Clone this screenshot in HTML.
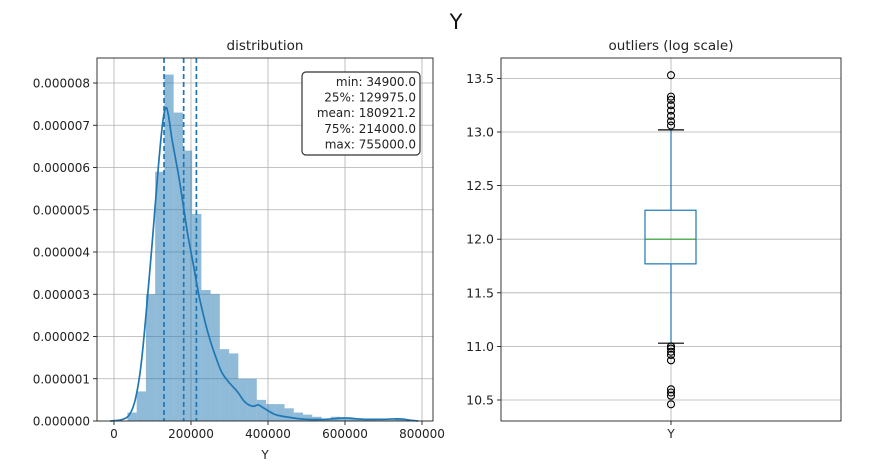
<!DOCTYPE html>
<html><head><meta charset="utf-8"><style>
body{margin:0;background:#fff;}
svg{display:block;font-family:"DejaVu Sans","Liberation Sans",sans-serif;}
</style></head><body>
<svg id="fig" width="875" height="468" viewBox="0 0 875 468">
<text x="456" y="29" font-size="21" text-anchor="middle" fill="#111">Y</text>
<g id="left"></g>
<g id="right"></g>
</svg>
<script>
// ----- data -----
const histStart = 34900;
const histBinWidth = 24003;
const histDensity = [0.2,0.7,3.0,5.9,8.2,7.3,6.4,4.9,3.1,3.0,1.7,1.6,1.0,1.0,0.5,0.4,0.4,0.3,0.2,0.15,0.1,0.05,0.1,0.05,0.05,0.05,0.02,0.02,0.02,0.05];
const kdeX = [-10000,20000,40000,55000,70000,85000,100000,115000,127000,135000,142000,150000,160000,170000,180000,190000,200000,210000,220000,235000,250000,265000,280000,300000,320000,340000,360000,375000,390000,420000,460000,500000,550000,600000,650000,700000,740000,770000,790000];
const kdeY = [0.0,0.03,0.15,0.5,1.3,2.7,4.3,6.0,7.1,7.42,7.2,6.7,6.2,5.7,5.1,4.5,4.0,3.5,3.0,2.4,1.9,1.5,1.15,0.9,0.7,0.45,0.35,0.38,0.3,0.15,0.08,0.04,0.04,0.07,0.04,0.04,0.05,0.02,0.0];
const statLines = [129975, 180921.2, 214000];
const statLabels = ["min: 34900.0","25%: 129975.0","mean: 180921.2","75%: 214000.0","max: 755000.0"];
const xTicks = [0,200000,400000,600000,800000];
const yTicks = [0,1,2,3,4,5,6,7,8];
const yTickLabels = ["0.000000","0.000001","0.000002","0.000003","0.000004","0.000005","0.000006","0.000007","0.000008"];
const boxStats = {whisLo:11.03, q1:11.77, med:12.0, q3:12.27, whisHi:13.02};
const outliers = [13.53,13.33,13.30,13.25,13.20,13.15,13.10,13.06,11.00,10.98,10.95,10.92,10.87,10.60,10.57,10.54,10.46];
const rTicks = [10.5,11.0,11.5,12.0,12.5,13.0,13.5];
const rTickLabels = ["10.5","11.0","11.5","12.0","12.5","13.0","13.5"];

const NS="http://www.w3.org/2000/svg";
function mk(parent,tag,attrs,text){const e=document.createElementNS(NS,tag);for(const k in attrs)e.setAttribute(k,attrs[k]);if(text!==undefined)e.textContent=text;parent.appendChild(e);return e;}

// ----- left panel -----
const L=document.getElementById('left');
const lx0=97,lx1=433,ly0=58,ly1=421;
const X=v=>114+v/200000*77;
const Y=d=>421-d*42.25;
mk(L,'rect',{x:lx0,y:ly0,width:lx1-lx0,height:ly1-ly0,fill:'#fff'});
xTicks.forEach((t,i)=>{
 const g=mk(L,'line',{x1:X(t),x2:X(t),y1:ly0,y2:ly1,stroke:'#b0b0b0','stroke-width':0.8});
 
 mk(L,'line',{x1:X(t),x2:X(t),y1:ly1,y2:ly1+4,stroke:'#000','stroke-width':0.8});
 const tl=mk(L,'text',{x:X(t),y:ly1+17,'font-size':12,'text-anchor':'middle',fill:'#222'},String(t));
 
});
yTicks.forEach((t,i)=>{
 const g=mk(L,'line',{x1:lx0,x2:lx1,y1:Y(t),y2:Y(t),stroke:'#b0b0b0','stroke-width':0.8});
 
 mk(L,'line',{x1:lx0-4,x2:lx0,y1:Y(t),y2:Y(t),stroke:'#000','stroke-width':0.8});
 const tl=mk(L,'text',{x:lx0-7,y:Y(t)+4.5,'font-size':12,'text-anchor':'end',fill:'#222'},yTickLabels[i]);
 
});
histDensity.forEach((d,i)=>{
 const a=histStart+i*histBinWidth,b=a+histBinWidth;
 const r=mk(L,'rect',{x:X(a),y:Y(d),width:X(b)-X(a),height:Y(0)-Y(d),fill:'rgba(31,119,180,0.5)'});
 
});
// smooth path (Catmull-Rom)
const pts=kdeX.map((x,i)=>[X(x),Y(kdeY[i])]);
let p='M'+pts[0][0].toFixed(1)+','+pts[0][1].toFixed(1);
for(let i=0;i<pts.length-1;i++){
 const p0=pts[Math.max(0,i-1)],p1=pts[i],p2=pts[i+1],p3=pts[Math.min(pts.length-1,i+2)];
 const c1=[p1[0]+(p2[0]-p0[0])/6,p1[1]+(p2[1]-p0[1])/6];
 const c2=[p2[0]-(p3[0]-p1[0])/6,p2[1]-(p3[1]-p1[1])/6];
 p+='C'+c1.map(v=>v.toFixed(1)).join(',')+' '+c2.map(v=>v.toFixed(1)).join(',')+' '+p2.map(v=>v.toFixed(1)).join(',');
}
const kde=mk(L,'path',{d:p,fill:'none',stroke:'#1f77b4','stroke-width':1.7});

statLines.forEach(v=>{
 const l=mk(L,'line',{x1:X(v),x2:X(v),y1:ly0,y2:ly1,stroke:'#1f77b4','stroke-width':1.7,'stroke-dasharray':'5,3'});
 
});
mk(L,'rect',{x:lx0,y:ly0,width:lx1-lx0,height:ly1-ly0,fill:'none',stroke:'#222','stroke-width':0.9});
const sb=mk(L,'rect',{x:302,y:72,width:118,height:83,rx:4,fill:'#fff',stroke:'#333','stroke-width':1.2});

statLabels.forEach((s,i)=>{
 const t=mk(L,'text',{x:416,y:86+i*15.6,'font-size':12,'text-anchor':'end',fill:'#222'},s);
 
});
const lt=mk(L,'text',{x:265,y:50,'font-size':13.5,'text-anchor':'middle',fill:'#222'},'distribution');

const xl=mk(L,'text',{x:265,y:459,'font-size':12,'text-anchor':'middle',fill:'#222'},'Y');


// ----- right panel -----
const R=document.getElementById('right');
const rx0=501,rx1=841,ry0=58,ry1=421,cx=671;
const RY=v=>400-(v-10.5)/0.5*53.6;
rTicks.forEach((t,i)=>{
 const g=mk(R,'line',{x1:rx0,x2:rx1,y1:RY(t),y2:RY(t),stroke:'#b0b0b0','stroke-width':0.8});
 
 mk(R,'line',{x1:rx0-4,x2:rx0,y1:RY(t),y2:RY(t),stroke:'#000','stroke-width':0.8});
 const tl=mk(R,'text',{x:rx0-7,y:RY(t)+4.5,'font-size':12.5,'text-anchor':'end',fill:'#222'},rTickLabels[i]);
 
});
mk(R,'line',{x1:cx,x2:cx,y1:ry0,y2:ry1,stroke:'#b0b0b0','stroke-width':0.8});
mk(R,'line',{x1:cx,x2:cx,y1:RY(boxStats.whisHi),y2:RY(boxStats.q3),stroke:'#1f77b4','stroke-width':1.2});
mk(R,'line',{x1:cx,x2:cx,y1:RY(boxStats.q1),y2:RY(boxStats.whisLo),stroke:'#1f77b4','stroke-width':1.2});
mk(R,'line',{x1:658,x2:684,y1:RY(boxStats.whisHi),y2:RY(boxStats.whisHi),stroke:'#000','stroke-width':1.2});
mk(R,'line',{x1:658,x2:684,y1:RY(boxStats.whisLo),y2:RY(boxStats.whisLo),stroke:'#000','stroke-width':1.2});
const bx=mk(R,'rect',{x:645,y:RY(boxStats.q3),width:51,height:RY(boxStats.q1)-RY(boxStats.q3),fill:'none',stroke:'#1f77b4','stroke-width':1.2});

const md=mk(R,'line',{x1:645,x2:696,y1:RY(boxStats.med),y2:RY(boxStats.med),stroke:'#2ca02c','stroke-width':1.2});

outliers.forEach(v=>{
 const c=mk(R,'circle',{cx:cx,cy:RY(v),r:3.5,fill:'none',stroke:'#000','stroke-width':1.1});
 
});
mk(R,'rect',{x:rx0,y:ry0,width:rx1-rx0,height:ry1-ry0,fill:'none',stroke:'#222','stroke-width':0.9});
mk(R,'line',{x1:cx,x2:cx,y1:ry1,y2:ry1+4,stroke:'#000','stroke-width':0.8});
const xt=mk(R,'text',{x:cx,y:ry1+17,'font-size':12,'text-anchor':'middle',fill:'#222'},'Y');

const rt=mk(R,'text',{x:cx,y:50,'font-size':13.5,'text-anchor':'middle',fill:'#222'},'outliers (log scale)');

</script>
</body></html>
